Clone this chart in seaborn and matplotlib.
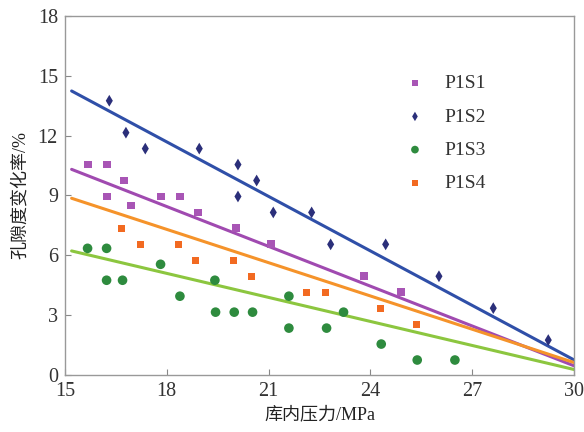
import matplotlib
matplotlib.use("Agg")
import matplotlib.pyplot as plt
import pandas as pd
import seaborn as sns

# values
p1s1X = [15.68, 16.24, 16.24, 16.74, 16.95, 17.83, 18.39, 18.92, 20.04, 21.07, 23.81, 24.90]
p1s1Y = [10.55, 10.55, 8.95, 9.75, 8.50, 8.95, 8.95, 8.15, 7.35, 6.55, 4.95, 4.15]
p1s2X = [16.31, 16.80, 17.37, 18.96, 20.10, 20.10, 20.65, 21.14, 22.27, 22.83, 24.45, 26.02, 27.62, 29.24]
p1s2Y = [13.75, 12.15, 11.35, 11.35, 10.55, 8.95, 9.75, 8.15, 8.15, 6.55, 6.55, 4.95, 3.35, 1.75]
p1s3X = [15.67, 16.23, 16.23, 16.70, 17.82, 19.42, 18.39, 19.44, 19.99, 20.53, 21.60, 23.21, 21.60, 22.71, 24.32, 25.38, 26.49]
p1s3Y = [6.35, 6.35, 4.75, 4.75, 5.55, 4.75, 3.95, 3.15, 3.15, 3.15, 3.95, 3.15, 2.35, 2.35, 1.55, 0.75, 0.75]
p1s4X = [16.67, 17.23, 18.34, 18.85, 19.96, 20.51, 22.12, 22.68, 24.30, 25.37]
p1s4Y = [7.35, 6.55, 6.55, 5.75, 5.75, 4.95, 4.15, 4.15, 3.35, 2.55]

# trend lines as drawn in the reference (value at start / end pressure)
trendX = [15.2, 30.06]
trendP1S1 = [10.31, 0.42]
trendP1S2 = [14.24, 0.70]
trendP1S3 = [6.22, 0.25]
trendP1S4 = [8.86, 0.59]

seriesNames = ["P1S1", "P1S2", "P1S3", "P1S4"]
pointColours = ["#A855B5", "#2B2F7A", "#2E8B3E", "#F26A21"]
lineColours = ["#A04AB0", "#2F4FA8", "#8CC63F", "#F5932A"]
markers = ["s", "d", "o", "s"]
markerSizes = [32, 36, 48, 26]

xTicks = [15, 18, 21, 24, 27, 30]
yTicks = [0, 3, 6, 9, 12, 15, 18]


def buildFrame():
    xs = [p1s1X, p1s2X, p1s3X, p1s4X]
    ys = [p1s1Y, p1s2Y, p1s3Y, p1s4Y]
    parts = []
    for name, x, y in zip(seriesNames, xs, ys):
        parts.append(pd.DataFrame({"pressure": x, "rate": y, "series": name}))
    return pd.concat(parts, ignore_index=True)


def buildTrend():
    trends = [trendP1S1, trendP1S2, trendP1S3, trendP1S4]
    parts = []
    for name, vals in zip(seriesNames, trends):
        parts.append(pd.DataFrame({"pressure": trendX, "rate": vals, "series": name}))
    return pd.concat(parts, ignore_index=True)


def main():
    sns.set_style("ticks")
    plt.rcParams["font.family"] = ["Liberation Serif", "Noto Sans CJK SC"]

    df = buildFrame()
    trend = buildTrend()
    fig = plt.figure(figsize=(5.84, 4.32), dpi=100)
    ax = fig.add_axes([0.111, 0.132, 0.872, 0.831])

    sns.lineplot(data=trend, x="pressure", y="rate", hue="series", palette=lineColours,
                 lw=2.2, legend=False, ax=ax, zorder=2)

    for name, colour, marker, size in zip(seriesNames, pointColours, markers, markerSizes):
        sub = df[df["series"] == name]
        sns.scatterplot(data=sub, x="pressure", y="rate", color=colour, marker=marker,
                        s=size, edgecolor="none", label=name, ax=ax, zorder=3)

    ax.set_xlim(15, 30)
    ax.set_ylim(0, 18)
    ax.set_xticks(xTicks)
    ax.set_yticks(yTicks)
    ax.tick_params(direction="in", length=4, color="#888888", labelsize=14.5, labelcolor="#333333", pad=5)
    for spine in ax.spines.values():
        spine.set_visible(True)
        spine.set_color("#999999")
        spine.set_linewidth(1.0)

    ax.set_xlabel("库内压力/MPa", fontsize=13, color="#222222", labelpad=4)
    ax.set_ylabel("孔隙度变化率/%", fontsize=13, color="#222222", labelpad=6)

    leg = ax.legend(loc="upper left", bbox_to_anchor=(0.615, 0.885), frameon=False, fontsize=14,
                    labelspacing=0.8, handletextpad=0.5, markerscale=0.8)
    for text in leg.get_texts():
        text.set_color("#333333")

    fig.savefig("out.png", dpi=100)
    plt.close(fig)


if __name__ == "__main__":
    main()
